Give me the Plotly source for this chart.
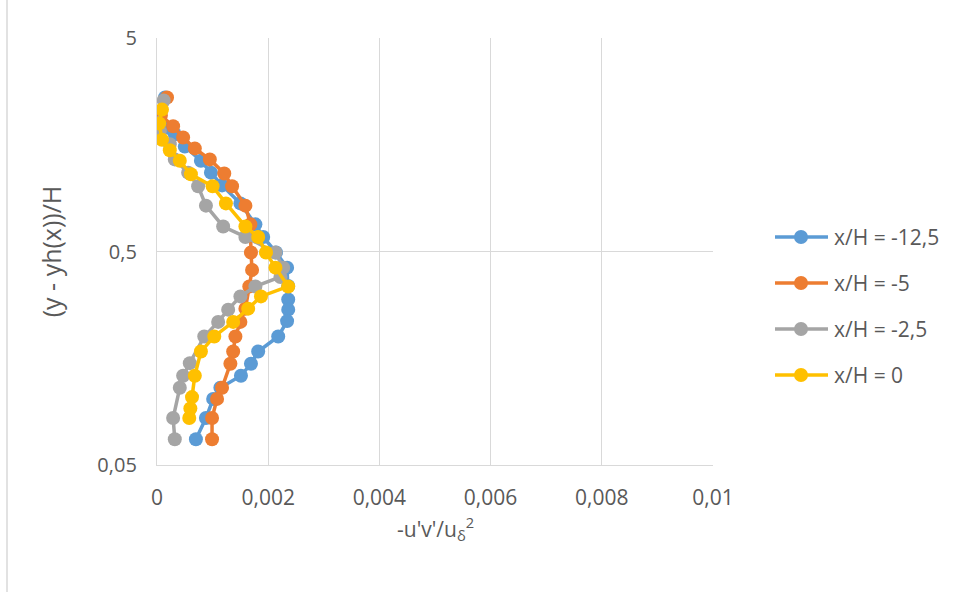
import plotly.graph_objects as go

# Reynolds shear stress profiles at four streamwise stations
x_m125 = [0.000144, 0.000054, 0.00020, 0.00032, 0.00050, 0.00079, 0.00097, 0.00117, 0.00150,
          0.00177, 0.00191, 0.00214, 0.00234, 0.00236, 0.00236, 0.00236, 0.00234, 0.00218,
          0.00182, 0.00169, 0.00151, 0.00114, 0.00101, 0.00088, 0.00070]
y_m125 = [2.63, 2.12, 1.90, 1.77, 1.55, 1.33, 1.17, 1.02, 0.84,
          0.67, 0.585, 0.495, 0.42, 0.345, 0.298, 0.267, 0.236, 0.200,
          0.170, 0.149, 0.131, 0.115, 0.102, 0.083, 0.066]

x_m5 = [0.00018, 0.00007, 0.00029, 0.00047, 0.00068, 0.00095, 0.00121, 0.00135, 0.00159,
        0.00168, 0.00169, 0.00171, 0.00166, 0.00159, 0.00150, 0.00141, 0.00137, 0.00132,
        0.00117, 0.00108, 0.00099, 0.00099]
y_m5 = [2.63, 2.17, 1.93, 1.71, 1.52, 1.35, 1.16, 1.01, 0.82,
        0.67, 0.495, 0.41, 0.343, 0.27, 0.234, 0.200, 0.170, 0.149,
        0.115, 0.102, 0.083, 0.066]

x_m25 = [0.00012, 0.00002, 0.00005, 0.00023, 0.00032, 0.00056, 0.00074, 0.00088, 0.00119,
         0.00159, 0.00213, 0.00227, 0.00222, 0.00177, 0.00150, 0.00128, 0.00110, 0.00085,
         0.00059, 0.00047, 0.00041, 0.00029, 0.00032]
y_m25 = [2.55, 1.99, 1.83, 1.59, 1.35, 1.17, 1.01, 0.82, 0.655,
         0.585, 0.495, 0.42, 0.38, 0.343, 0.308, 0.267, 0.234, 0.200,
         0.150, 0.131, 0.115, 0.083, 0.066]

x_0 = [0.00009, 0.00004, 0.00009, 0.00023, 0.00041, 0.00061, 0.00100, 0.00124, 0.00159,
       0.00182, 0.00196, 0.00213, 0.00236, 0.00187, 0.00164, 0.00137, 0.00103, 0.00079,
       0.00068, 0.00063, 0.00060, 0.00058]
y_0 = [2.31, 1.99, 1.67, 1.49, 1.33, 1.15, 1.01, 0.84, 0.655,
       0.585, 0.495, 0.42, 0.343, 0.308, 0.27, 0.234, 0.200, 0.170,
       0.131, 0.104, 0.092, 0.083]

series_names = ["x/H = -12,5", "x/H = -5", "x/H = -2,5", "x/H = 0"]
series_colors = ["#5B9BD5", "#ED7D31", "#A5A5A5", "#FFC000"]
series_x = [x_m125, x_m5, x_m25, x_0]
series_y = [y_m125, y_m5, y_m25, y_0]

x_ticks = [0, 0.002, 0.004, 0.006, 0.008, 0.01]
y_ticks = [0.05, 0.5, 5]

FONT = "Open Sans"
TXT = "#595959"
GRID = "#D9D9D9"

W, H = 953, 592
ML, MR, MT, MB = 157, 240, 38, 127
PW, PH = W - ML - MR, H - MT - MB


def px_to_paper(px, py):
    return (px - ML) / PW, (H - MB - py) / PH


fig = go.Figure()
for name, color, xs, ys in zip(series_names, series_colors, series_x, series_y):
    fig.add_trace(go.Scatter(
        x=xs, y=ys, name=name, mode="lines+markers",
        line=dict(color=color, width=3.5),
        marker=dict(color=color, size=14, symbol="circle"),
        showlegend=False,
    ))

fig.update_layout(
    width=W, height=H,
    margin=dict(l=ML, r=MR, t=MT, b=MB),
    paper_bgcolor="white", plot_bgcolor="white",
    separators=", ",
    font=dict(family=FONT, color=TXT, size=20),
    showlegend=False,
    xaxis=dict(
        range=[0, 0.01], tickvals=x_ticks,
        showgrid=True, gridcolor=GRID, gridwidth=1.3,
        zeroline=False, showline=True, linecolor=GRID, linewidth=1.3,
        ticks="", ticklabelstandoff=14,
        tickfont=dict(family=FONT, size=21, color=TXT),
    ),
    yaxis=dict(
        type="log", range=[-1.30103, 0.69897], tickvals=y_ticks,
        showgrid=True, gridcolor=GRID, gridwidth=1.3,
        zeroline=False, showline=True, linecolor=GRID, linewidth=1.3,
        ticks="", ticklabelstandoff=15,
        tickfont=dict(family=FONT, size=20, color=TXT),
        title=dict(text="(y - yh(x))/H", standoff=28,
                   font=dict(family=FONT, size=25, color=TXT)),
    ),
)

# x-axis title placed under the tick labels
ax_x, ax_y = px_to_paper(435, 528)
fig.add_annotation(xref="paper", yref="paper", x=ax_x, y=ax_y,
                   xanchor="center", yanchor="middle", showarrow=False,
                   text="-u'v'/u<sub>δ</sub><sup>2</sup>",
                   font=dict(family=FONT, size=21, color=TXT))

# legend drawn beside the plot: line sample, circle marker and label per series
row_y = [237, 283, 329, 375]
for name, color, py in zip(series_names, series_colors, row_y):
    x0, y0 = px_to_paper(775, py)
    x1, _ = px_to_paper(828, py)
    fig.add_shape(type="line", xref="paper", yref="paper",
                  x0=x0, x1=x1, y0=y0, y1=y0,
                  line=dict(color=color, width=3.5))
    cx0, cy0 = px_to_paper(801 - 7, py + 7)
    cx1, cy1 = px_to_paper(801 + 7, py - 7)
    fig.add_shape(type="circle", xref="paper", yref="paper",
                  x0=cx0, x1=cx1, y0=cy0, y1=cy1,
                  fillcolor=color, line=dict(color=color, width=0))
    tx, ty = px_to_paper(832, py)
    fig.add_annotation(xref="paper", yref="paper", x=tx, y=ty,
                       xanchor="left", yanchor="middle", showarrow=False,
                       text=name, font=dict(family=FONT, size=21, color=TXT))

# chart frame edge on the left
fx, _ = px_to_paper(7, 0)
fig.add_shape(type="line", xref="paper", yref="paper",
              x0=fx, x1=fx, y0=-0.35, y1=1.2,
              line=dict(color=GRID, width=1.5))

fig.write_html("out.html")
